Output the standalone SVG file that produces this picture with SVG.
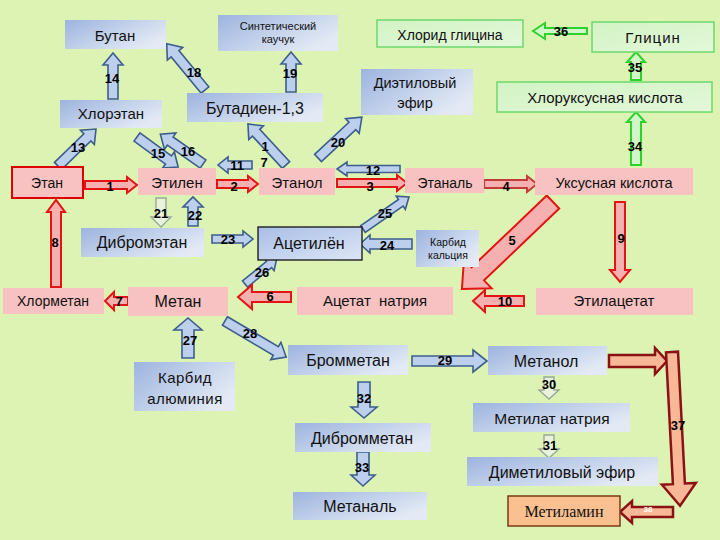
<svg xmlns="http://www.w3.org/2000/svg" width="720" height="540" viewBox="0 0 720 540">
<defs>
<linearGradient id="gb" x1="0" y1="0" x2="1" y2="0.6">
<stop offset="0" stop-color="#9DB4DF"/><stop offset="1" stop-color="#E3EAF5"/>
</linearGradient>
<linearGradient id="gg" x1="0" y1="0" x2="1" y2="1">
<stop offset="0" stop-color="#D2F3C4"/><stop offset="1" stop-color="#E4F8DA"/>
</linearGradient>
<linearGradient id="ga" x1="0" y1="0" x2="1" y2="1">
<stop offset="0" stop-color="#A9BEE6"/><stop offset="1" stop-color="#DDE6F6"/>
</linearGradient>
<style>
.t{font-family:"Liberation Sans",Arial,sans-serif;fill:#111;text-anchor:middle}
.n{font-family:"Liberation Sans",Arial,sans-serif;font-weight:bold;font-size:13px;fill:#000;text-anchor:middle}
.bb{fill:url(#gb)}
.pk{fill:#F9C2C2}
.gr{fill:url(#gg);stroke:#6BD96B;stroke-width:1.5}
.ab{fill:#BCD0EE;stroke:#3D5E8C;stroke-width:1.6}
.ap{fill:#E8F3DC;stroke:#98A898;stroke-width:1.4}
.ar{fill:#F6B0B0;stroke:#E41414;stroke-width:2}
.ag{fill:#D2F6C8;stroke:#2ED22E;stroke-width:2}
.ad{fill:#F8B898;stroke:#8A1212;stroke-width:2.5}
</style>
</defs>
<rect width="720" height="540" fill="#DCF3B4"/>

<g id="connectors">
<path class="ab" transform="translate(113 99) rotate(-90)" d="M0,-5 H34 V-10 L46,0 L34,10 V5 H0 Z"/>
<path class="ab" transform="translate(205 90) rotate(-129.6)" d="M0,-5 H47 V-10 L60,0 L47,10 V5 H0 Z"/>
<path class="ab" transform="translate(291 92) rotate(-90)" d="M0,-5 H28 V-10 L40,0 L28,10 V5 H0 Z"/>
<path class="ab" transform="translate(58 166) rotate(-44.2)" d="M0,-5 H41 V-10 L53,0 L41,10 V5 H0 Z"/>
<path class="ab" transform="translate(137 137) rotate(36.2)" d="M0,-5 H39 V-10 L51,0 L39,10 V5 H0 Z"/>
<path class="ab" transform="translate(203 164) rotate(-145.1)" d="M0,-5 H40 V-10 L52,0 L40,10 V5 H0 Z"/>
<path class="ab" transform="translate(252 165) rotate(180)" d="M0,-4 H24 V-8 L34,0 L24,8 V4 H0 Z"/>
<path class="ab" transform="translate(286 165) rotate(-132.8)" d="M0,-5 H44 V-10 L56,0 L44,10 V5 H0 Z"/>
<path class="ab" transform="translate(318 158) rotate(-43)" d="M0,-5 H47 V-10 L60,0 L47,10 V5 H0 Z"/>
<path class="ab" transform="translate(400 169) rotate(180)" d="M0,-3.5 H53 V-7 L63,0 L53,7 V3.5 H0 Z"/>
<path class="ab" transform="translate(193 226) rotate(-90)" d="M0,-5 H19 V-10 L29,0 L19,10 V5 H0 Z"/>
<path class="ap" transform="translate(161 198) rotate(90)" d="M0,-5 H19 V-10 L29,0 L19,10 V5 H0 Z"/>
<path class="ab" transform="translate(212 239)" d="M0,-4 H31 V-8 L41,0 L31,8 V4 H0 Z"/>
<path class="ab" transform="translate(412 244) rotate(180)" d="M0,-5 H42 V-9 L52,0 L42,9 V5 H0 Z"/>
<path class="ab" transform="translate(363 229) rotate(-34.8)" d="M0,-4 H46 V-8 L56,0 L46,8 V4 H0 Z"/>
<path class="ab" transform="translate(245 284) rotate(-39.1)" d="M0,-4 H31 V-8 L41,0 L31,8 V4 H0 Z"/>
<path class="ab" transform="translate(188 358) rotate(-90)" d="M0,-6 H28 V-14 L40,0 L28,14 V6 H0 Z"/>
<path class="ab" transform="translate(225 321) rotate(30.5)" d="M0,-5 H59 V-10 L71,0 L59,10 V5 H0 Z"/>
<path class="ab" transform="translate(412 361)" d="M0,-5 H61 V-11 L75,0 L61,11 V5 H0 Z"/>
<path class="ap" transform="translate(549 377) rotate(90)" d="M0,-5 H13 V-10 L22,0 L13,10 V5 H0 Z"/>
<path class="ap" transform="translate(549 435) rotate(90)" d="M0,-5 H14 V-10 L23,0 L14,10 V5 H0 Z"/>
<path class="ab" transform="translate(364 382) rotate(90)" d="M0,-6 H25 V-13 L36,0 L25,13 V6 H0 Z"/>
<path class="ab" transform="translate(363 452) rotate(90)" d="M0,-6 H23 V-12 L34,0 L23,12 V6 H0 Z"/>
<path class="ar" transform="translate(85 185)" d="M0,-4 H42 V-8 L52,0 L42,8 V4 H0 Z"/>
<path class="ar" transform="translate(217 184)" d="M0,-4 H31 V-8 L41,0 L31,8 V4 H0 Z"/>
<path class="ar" transform="translate(337 183)" d="M0,-4 H60 V-8 L70,0 L60,8 V4 H0 Z"/>
<path class="ar" style="stroke:#C23A3A" transform="translate(484 184)" d="M0,-4 H43 V-8 L53,0 L43,8 V4 H0 Z"/>
<path class="ar" transform="translate(553 202) rotate(136.3)" d="M0,-9 H104 V-20 L126,0 L104,20 V9 H0 Z"/>
<path class="ar" transform="translate(291 297) rotate(180)" d="M0,-5 H39 V-12 L53,0 L39,12 V5 H0 Z"/>
<path class="ar" transform="translate(128 301) rotate(180)" d="M0,-4 H14 V-9 L23,0 L14,9 V4 H0 Z"/>
<path class="ar" transform="translate(56 287) rotate(-90)" d="M0,-5 H75 V-9 L87,0 L75,9 V5 H0 Z"/>
<path class="ar" transform="translate(620 202) rotate(90)" d="M0,-5 H68 V-10 L80,0 L68,10 V5 H0 Z"/>
<path class="ar" transform="translate(524 301) rotate(180)" d="M0,-5 H39 V-11 L51,0 L39,11 V5 H0 Z"/>
<path class="ag" transform="translate(636 165) rotate(-90)" d="M0,-5 H43 V-9 L53,0 L43,9 V5 H0 Z"/>
<path class="ag" transform="translate(636 80) rotate(-90)" d="M0,-5 H18 V-9 L28,0 L18,9 V5 H0 Z"/>
<path class="ag" transform="translate(587 31) rotate(180)" d="M0,-3 H42 V-8 L54,0 L42,8 V3 H0 Z"/>
<path class="ad" transform="translate(609 361)" d="M0,-6 H46 V-13 L58,0 L46,13 V6 H0 Z"/>
<path class="ad" transform="translate(672 352) rotate(87)" d="M0,-6 H132 V-17 L154,0 L132,17 V6 H0 Z"/>
<path class="ad" transform="translate(673 512) rotate(180)" d="M0,-5 H41 V-11 L53,0 L41,11 V5 H0 Z"/>

<text class="n" x="112" y="83">14</text>
<text class="n" x="194" y="77">18</text>
<text class="n" x="290" y="78">19</text>
<text class="n" x="78" y="152">13</text>
<text class="n" x="158" y="158">15</text>
<text class="n" x="188" y="156">16</text>
<text class="n" x="237" y="170">11</text>
<text class="n" x="265" y="151">1</text>
<text class="n" x="264" y="167">7</text>
<text class="n" x="338" y="147">20</text>
<text class="n" x="373" y="175">12</text>
<text class="n" x="161" y="218">21</text>
<text class="n" x="195" y="220">22</text>
<text class="n" x="228" y="244">23</text>
<text class="n" x="387" y="250">24</text>
<text class="n" x="385" y="218">25</text>
<text class="n" x="262" y="277">26</text>
<text class="n" x="190" y="345">27</text>
<text class="n" x="250" y="338">28</text>
<text class="n" x="445" y="365">29</text>
<text class="n" x="549" y="389">30</text>
<text class="n" x="550" y="450">31</text>
<text class="n" x="364" y="403">32</text>
<text class="n" x="362" y="472">33</text>
<text class="n" x="110" y="191">1</text>
<text class="n" x="234" y="191">2</text>
<text class="n" x="370" y="191">3</text>
<text class="n" x="506" y="191">4</text>
<text class="n" x="512" y="245">5</text>
<text class="n" x="270" y="301">6</text>
<text class="n" x="119" y="306">7</text>
<text class="n" x="55" y="247">8</text>
<text class="n" x="621" y="243">9</text>
<text class="n" x="505" y="306">10</text>
<text class="n" x="635" y="151">34</text>
<text class="n" x="635" y="72">35</text>
<text class="n" x="561" y="36">36</text>
<text class="n" x="678" y="430">37</text>
<text class="n" style="fill:#fff;font-size:8px" x="648" y="512">38</text>
</g>

<g id="butan"><rect class="bb" x="65" y="20" width="101" height="29"/><text class="t" x="115" y="41" font-size="15">Бутан</text></g>
<g id="kauchuk"><rect class="bb" x="218" y="15" width="120" height="36"/><text class="t" x="278" y="30" font-size="11">Синтетический</text><text class="t" x="278" y="43" font-size="11">каучук</text></g>
<g id="hloretan"><rect class="bb" x="60" y="100" width="102" height="28"/><text class="t" x="111" y="119" font-size="15">Хлорэтан</text></g>
<g id="butadien"><rect class="bb" x="187" y="93" width="136" height="29"/><text class="t" x="255" y="114" font-size="16">Бутадиен-1,3</text></g>
<g id="hlorid-glicina"><rect class="gr" x="377" y="20" width="146" height="27"/><text class="t" x="450" y="40" font-size="14">Хлорид глицина</text></g>
<g id="glicin"><rect class="gr" x="592" y="22" width="122" height="30"/><text class="t" x="653" y="43" font-size="15" letter-spacing="1">Глицин</text></g>
<g id="dietil-efir"><rect class="bb" x="361" y="69" width="112" height="46"/><text class="t" x="415" y="88" font-size="14.5">Диэтиловый</text><text class="t" x="415" y="108" font-size="14.5">эфир</text></g>
<g id="hloruksusnaya"><rect class="gr" x="497" y="82" width="215" height="30"/><text class="t" x="605" y="103" font-size="15">Хлоруксусная кислота</text></g>
<g id="etan"><rect class="pk" x="12" y="167" width="71" height="31" stroke="#DD0000" stroke-width="2"/><text class="t" x="47" y="188" font-size="14">Этан</text></g>
<g id="etilen"><rect class="pk" x="138" y="168" width="78" height="27"/><text class="t" x="177" y="188" font-size="15">Этилен</text></g>
<g id="etanol"><rect class="pk" x="259" y="168" width="76" height="27"/><text class="t" x="297" y="188" font-size="15">Этанол</text></g>
<g id="etanal"><rect class="pk" x="405" y="168" width="79" height="25"/><text class="t" x="445" y="188" font-size="14">Этаналь</text></g>
<g id="uksusnaya"><rect class="pk" x="535" y="168" width="158" height="27"/><text class="t" x="614" y="188" font-size="14.5">Уксусная кислота</text></g>
<g id="dibrometan"><rect class="bb" x="81" y="228" width="123" height="29"/><text class="t" x="142" y="248" font-size="16">Дибромэтан</text></g>
<g id="acetilen"><rect x="258" y="227" width="104" height="33" fill="url(#ga)" stroke="#111" stroke-width="1.3"/><text class="t" x="309" y="249" font-size="16">Ацетилён</text></g>
<g id="karbid-kalciya"><rect class="bb" x="416" y="230" width="63" height="37"/><text class="t" x="448" y="246" font-size="10.5">Карбид</text><text class="t" x="448" y="259" font-size="10.5">кальция</text></g>
<g id="hlormetan"><rect class="pk" x="3" y="288" width="101" height="26"/><text class="t" x="53" y="306" font-size="14">Хлорметан</text></g>
<g id="metan"><rect class="pk" x="128" y="287" width="100" height="29"/><text class="t" x="178" y="307" font-size="16">Метан</text></g>
<g id="acetat-natriya"><rect class="pk" x="297" y="287" width="156" height="28"/><text class="t" x="375" y="306" font-size="15" xml:space="preserve">Ацетат  натрия</text></g>
<g id="etilacetat"><rect class="pk" x="536" y="288" width="157" height="27"/><text class="t" x="614" y="306" font-size="15">Этилацетат</text></g>
<g id="karbid-alyuminiya"><rect class="bb" x="134" y="362" width="101" height="49"/><text class="t" x="185" y="383" font-size="15" letter-spacing="0.5">Карбид</text><text class="t" x="185" y="404" font-size="15" letter-spacing="0.5">алюминия</text></g>
<g id="brommetan"><rect class="bb" x="288" y="345" width="120" height="30"/><text class="t" x="348" y="366" font-size="16">Бромметан</text></g>
<g id="metanol"><rect class="bb" x="488" y="346" width="119" height="29"/><text class="t" x="546" y="367" font-size="16">Метанол</text></g>
<g id="metilat-natriya"><rect class="bb" x="473" y="403" width="157" height="29"/><text class="t" x="552" y="424" font-size="15.5">Метилат натрия</text></g>
<g id="dibrommetan"><rect class="bb" x="295" y="423" width="136" height="29"/><text class="t" x="362" y="444" font-size="16">Дибромметан</text></g>
<g id="dimetil-efir"><rect class="bb" x="467" y="457" width="191" height="29"/><text class="t" x="562" y="478" font-size="16">Диметиловый эфир</text></g>
<g id="metanal"><rect class="bb" x="293" y="492" width="134" height="28"/><text class="t" x="360" y="512" font-size="16">Метаналь</text></g>
<g id="metilamin"><rect x="508" y="496" width="112" height="30" fill="#FAC090" stroke="#7A3A10" stroke-width="1.5"/><text x="564" y="517" font-size="16" text-anchor="middle" font-family="'Liberation Serif','Times New Roman',serif" fill="#111">Метиламин</text></g>
</svg>
